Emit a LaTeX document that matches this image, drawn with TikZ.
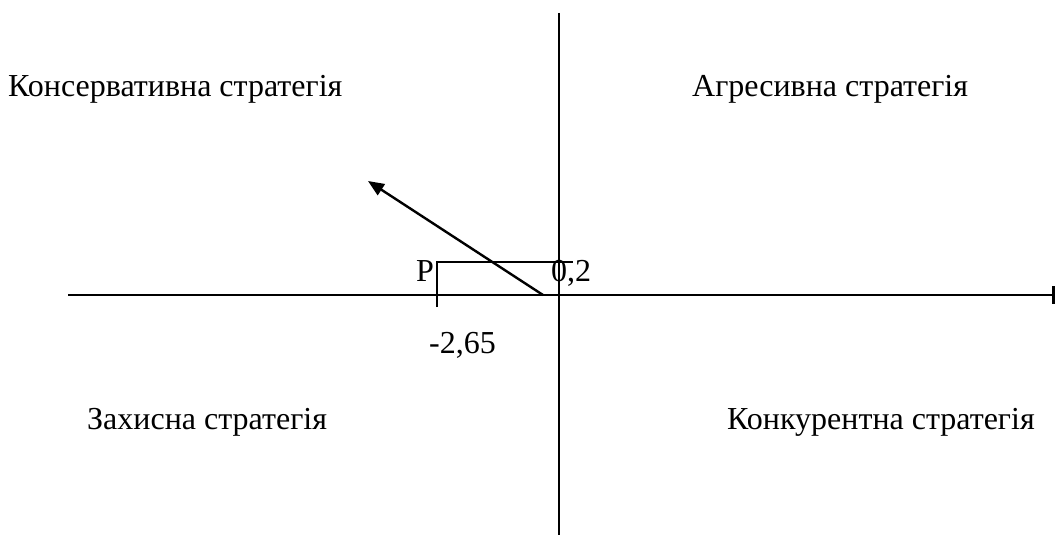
\documentclass[tikz,border=0pt]{standalone}
\usepackage{fontspec}
\setmainfont{Liberation Serif}
\usetikzlibrary{arrows.meta}
\begin{document}
\begin{tikzpicture}[x=1pt,y=-1pt,
  lbl/.style={inner sep=0pt,anchor=base west,font=\fontsize{32}{38}\selectfont},
  axisline/.style={line width=2.8pt},
  thinline/.style={line width=1.5pt}]
\useasboundingbox (0,0) rectangle (1057,537);
\coordinate (xl) at (68,295);
\coordinate (xr) at (1055,295);
\coordinate (yt) at (559,13);
\coordinate (yb) at (559,535);
\draw[axisline,-{Bar[width=17pt,line width=2.6pt]}] (xl) -- (xr);
\draw[thinline] (yt) -- (yb);
% rectangle marker
\coordinate (pb) at (437,307);
\coordinate (pt) at (437,262);
\coordinate (pr) at (573,262);
\draw[thinline] (pb) -- (pt) -- (pr);
% arrow
\coordinate (a0) at (543,295);
\coordinate (a1) at (368,181);
\draw[line width=2.4pt,-{Triangle[length=16pt,width=13pt]}] (a0) -- (a1);
% labels
\node[lbl] (cons) at (8,97) {Консервативна стратегія};
\node[lbl] (agr) at (692,97) {Агресивна стратегія};
\node[lbl] (zah) at (87,429) {Захисна стратегія};
\node[lbl] (konk) at (727,429) {Конкурентна стратегія};
\node[lbl] (p) at (416,282) {P};
\node[lbl] (v02) at (551,282) {0,2};
\node[lbl] (v265) at (429,353) {-2,65};
\end{tikzpicture}
\end{document}
